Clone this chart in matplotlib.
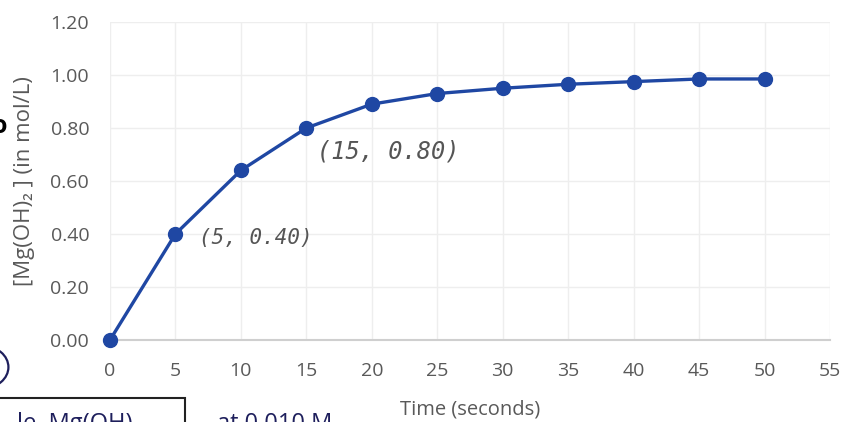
import matplotlib.pyplot as plt
from matplotlib.patches import Ellipse, Rectangle

# data
time_s = [0, 5, 10, 15, 20, 25, 30, 35, 40, 45, 50]
conc = [0.00, 0.40, 0.64, 0.80, 0.89, 0.93, 0.95, 0.965, 0.975, 0.985, 0.985]
x_ticks = [0, 5, 10, 15, 20, 25, 30, 35, 40, 45, 50, 55]
y_ticks = [0.0, 0.2, 0.4, 0.6, 0.8, 1.0, 1.2]
notes = [(6.8, 0.385, "(5, 0.40)", 15), (15.8, 0.713, "(15, 0.80)", 17)]

plt.rcParams['font.family'] = ['Open Sans', 'DejaVu Sans']

fig = plt.figure(figsize=(8.42, 4.22), dpi=100)
ax = fig.add_axes([0.1306, 0.1943, 0.8551, 0.7536])

ax.plot(time_s, conc, color='#1f47a3', lw=2.4, marker='o', ms=10,
        markerfacecolor='#1f47a3', markeredgecolor='#1f47a3', clip_on=False, zorder=3)

ax.set_xlim(0, 55)
ax.set_ylim(0, 1.2)
ax.set_xticks(x_ticks)
ax.set_yticks(y_ticks)
ax.set_yticklabels([f"{v:.2f}" for v in y_ticks])
ax.grid(True, color='#eeeeee', lw=1)
ax.set_axisbelow(True)
for s in ['left', 'right', 'top']:
    ax.spines[s].set_visible(False)
ax.spines['bottom'].set_color('#cfcfcf')
ax.spines['bottom'].set_linewidth(1.5)
ax.tick_params(length=0, labelsize=14, labelcolor='#595959')
ax.tick_params(axis='x', pad=16)
ax.tick_params(axis='y', pad=15)

ax.set_ylabel("[Mg(OH)₂ ] (in mol/L)", fontsize=16, color='#595959')
ax.yaxis.set_label_coords(-0.104, 0.5)
ax.set_xlabel("Time (seconds)", fontsize=14.5, color='#595959')
ax.xaxis.set_label_coords(0.5, -0.186)

# handwritten notes
for x, y, s, size in notes:
    ax.text(x, y, s, fontsize=size, color='#555555', style='oblique',
            family=['DejaVu Sans Mono'], ha='left', va='center')

# scribbles at the edges of the scan
fig.text(0.0, 0.70, "o", fontsize=18, color='black', fontweight='bold', ha='center', va='center')
fig.patches.append(Ellipse((-0.02, 0.13), 0.06, 0.10, transform=fig.transFigure,
                           fill=False, edgecolor='#1e1f5c', lw=1.6))
fig.patches.append(Rectangle((-0.01, -0.05), 0.23, 0.108, transform=fig.transFigure,
                             fill=False, edgecolor='#222222', lw=1.5))
fig.text(0.02, -0.005, "le  Mg(OH)", fontsize=17, color='#1e1f5c', ha='left', va='center')
fig.text(0.258, -0.005, "at 0.010 M", fontsize=17, color='#1e1f5c', ha='left', va='center')

fig.savefig('out.png', dpi=100, facecolor='white')
